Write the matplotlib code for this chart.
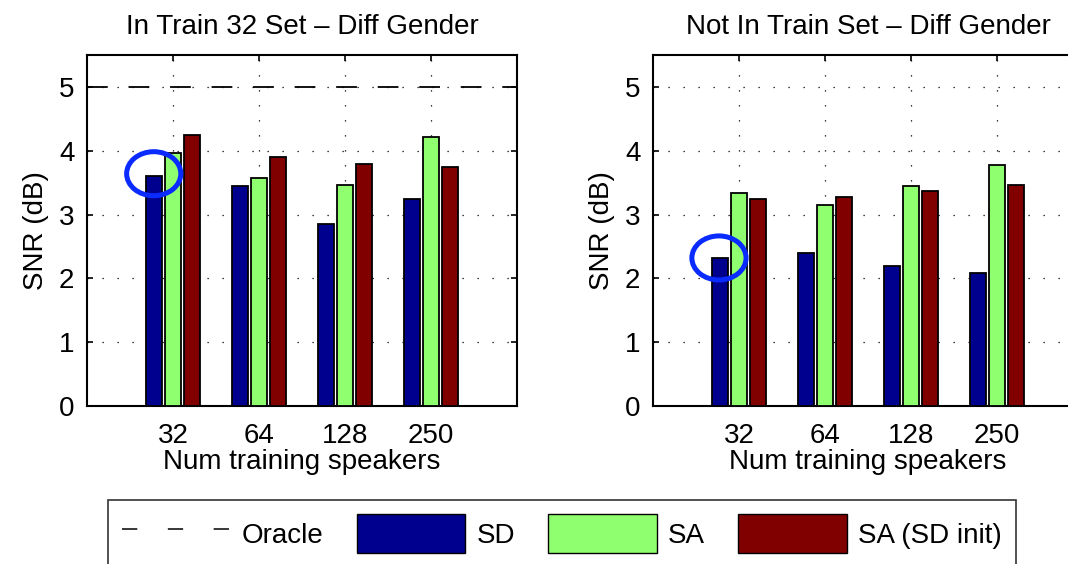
import matplotlib
matplotlib.use("Agg")
import matplotlib.pyplot as plt
import numpy as np
from matplotlib.patches import Ellipse, Patch
from matplotlib.lines import Line2D

# ---- data ----
speakers = ["32", "64", "128", "250"]
series_names = ["SD", "SA", "SA (SD init)"]

in_train_sd = [3.61, 3.45, 2.85, 3.25]
in_train_sa = [3.96, 3.57, 3.47, 4.22]
in_train_sa_sdinit = [4.24, 3.90, 3.79, 3.75]

not_in_train_sd = [2.32, 2.40, 2.20, 2.09]
not_in_train_sa = [3.33, 3.15, 3.45, 3.78]
not_in_train_sa_sdinit = [3.25, 3.27, 3.37, 3.46]

oracle_snr = 5.0

titles = ["In Train 32 Set \u2013 Diff Gender", "Not In Train Set \u2013 Diff Gender"]

# ---- style ----
plt.rcParams["font.family"] = ["Liberation Sans", "DejaVu Sans"]
FS = 20
colors = ["#00008F", "#8FFF6F", "#800000"]

W, H = 1068, 564
fig = plt.figure(figsize=(W / 100, H / 100), dpi=100)

def px_axes(x0, y_top, x1, y_bot):
    return [x0 / W, 1 - y_bot / H, (x1 - x0) / W, (y_bot - y_top) / H]

ax_left = fig.add_axes(px_axes(87, 55, 517, 406))
ax_right = fig.add_axes(px_axes(653, 55, 1083, 406))

panels = [
    (ax_left, [in_train_sd, in_train_sa, in_train_sa_sdinit], True, (0.776, 3.64)),
    (ax_right, [not_in_train_sd, not_in_train_sa, not_in_train_sa_sdinit], False, (0.767, 2.32)),
]

x = np.arange(1, len(speakers) + 1)
offset = 0.222
bar_w = 0.19

for (ax, groups, show_oracle, circ), title in zip(panels, titles):
    for i, (vals, c) in enumerate(zip(groups, colors)):
        ax.bar(x + (i - 1) * offset, vals, width=bar_w, color=c,
               edgecolor="black", linewidth=1.3, zorder=3)
    if show_oracle:
        ax.axhline(oracle_snr, color="black", linewidth=1.3,
                   dashes=(11.5, 11.5), zorder=4)
    ax.add_patch(Ellipse(circ, 0.63, 0.69, fill=False, edgecolor="#0A2BFF",
                         linewidth=3.6, zorder=5))
    ax.set_xlim(0, 5)
    ax.set_ylim(0, 5.5)
    ax.set_xticks(x)
    ax.set_xticklabels(speakers)
    ax.set_yticks(range(0, 6))
    ax.tick_params(direction="in", top=True, right=True, length=4,
                   width=1.2, labelsize=FS)
    ax.tick_params(axis="x", pad=12)
    ax.tick_params(axis="y", pad=9)
    ax.grid(True, color="black", linestyle=(0, (1, 11)), linewidth=0.9)
    ax.set_axisbelow(True)
    for s in ax.spines.values():
        s.set_linewidth(1.5)
    ax.set_title(title, fontsize=FS, pad=15)
    ax.set_xlabel("Num training speakers", fontsize=FS, labelpad=0)
    ax.set_ylabel("SNR (dB)", fontsize=FS, labelpad=7)

handles = [Line2D([0], [0], color="black", linewidth=1.1, dashes=(10, 20))]
handles += [Patch(facecolor=c, edgecolor="black", linewidth=1.0) for c in colors]
labels = ["Oracle"] + series_names

leg = fig.legend(handles, labels, loc="upper left", ncol=4, mode="expand",
                 bbox_to_anchor=(108 / W, 1 - 500 / H, 908 / W, 0.0),
                 fontsize=FS, frameon=True, fancybox=False,
                 handlelength=3.9, handleheight=1.75, handletextpad=0.4,
                 borderpad=0.52, borderaxespad=0)
leg.get_frame().set_edgecolor("black")
leg.get_frame().set_linewidth(1.2)

fig.savefig("out.png", dpi=100)
